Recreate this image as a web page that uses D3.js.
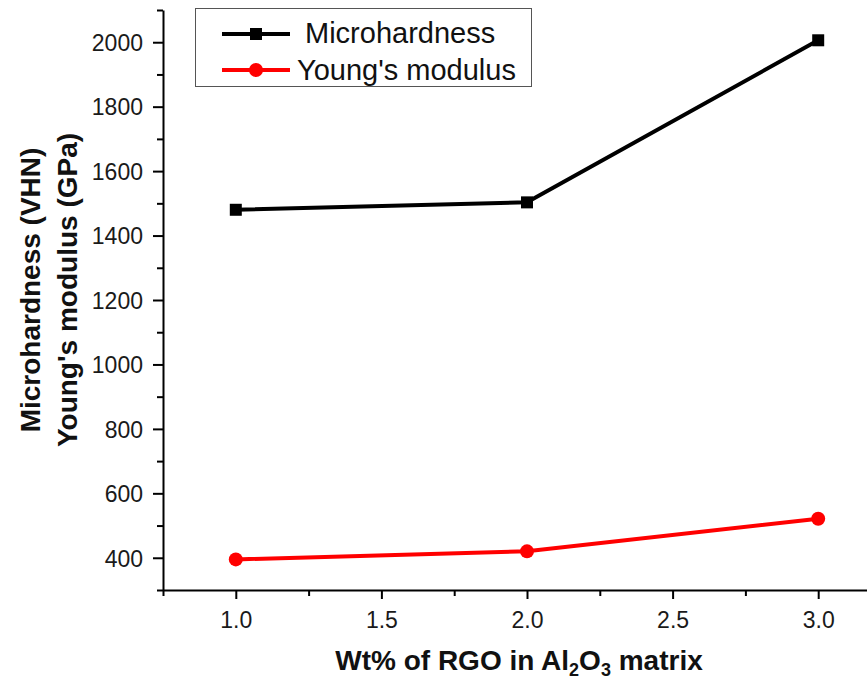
<!DOCTYPE html>
<html>
<head>
<meta charset="utf-8">
<script src="https://cdn.jsdelivr.net/npm/d3@7"></script>
<style>
  body { margin: 0; background: #fff; }
  svg { font-family: "Liberation Sans", Arial, sans-serif; }
</style>
</head>
<body>
<svg id="canvas_svg" width="867" height="682"></svg>
<script>
// data
var wtPercent = [1.0, 2.0, 3.0];
var microhardness = [1480, 1503, 2006];
var youngsModulus = [395, 420, 521];
var xTicks = [1.0, 1.5, 2.0, 2.5, 3.0];
var yTicks = [400, 600, 800, 1000, 1200, 1400, 1600, 1800, 2000];
var seriesNames = ["Microhardness", "Young's modulus"];

var svg = d3.select("#canvas_svg");

var padL = 163, padR = 891, padT = 10, padB = 590;

var x = d3.scaleLinear().domain([0.75, 3.25]).range([padL, padR]);
var y = d3.scaleLinear().domain([300, 2100]).range([padB, padT]);

// minor ticks
var xMinor = [0.75, 1.25, 1.75, 2.25, 2.75, 3.25];
var yMinor = [300, 500, 700, 900, 1100, 1300, 1500, 1700, 1900, 2100];

var gx = svg.append("g").attr("transform", "translate(0," + padB + ")");
gx.call(d3.axisBottom(x).tickValues(xTicks).tickFormat(d3.format(".1f")).tickSize(9).tickSizeOuter(0));
gx.append("g").call(d3.axisBottom(x).tickValues(xMinor).tickFormat("").tickSize(6).tickSizeOuter(0))
  .select(".domain").remove();

var gy = svg.append("g").attr("transform", "translate(" + padL + ",0)");
gy.call(d3.axisLeft(y).tickValues(yTicks).tickFormat(d3.format("d")).tickSize(10).tickSizeOuter(0));
gy.append("g").call(d3.axisLeft(y).tickValues(yMinor).tickFormat("").tickSize(6).tickSizeOuter(0))
  .select(".domain").remove();

svg.selectAll(".domain").attr("stroke", "#000").attr("stroke-width", 2);
svg.selectAll(".tick line").attr("stroke", "#000").attr("stroke-width", 2);
svg.selectAll(".tick text").style("font-size", "23px").attr("fill", "#1a1a1a")
  .style("font-family", "'Liberation Sans', Arial, sans-serif");
gx.selectAll(".tick text").attr("y", 22).attr("dy", "0.71em");
gy.selectAll(".tick text").attr("x", -20).attr("dy", "0.36em");

var line = d3.line().x(d => x(d[0])).y(d => y(d[1]));

var mh = wtPercent.map((v, i) => [v, microhardness[i]]);
var ym = wtPercent.map((v, i) => [v, youngsModulus[i]]);

svg.append("path").datum(mh).attr("d", line)
  .attr("fill", "none").attr("stroke", "#000").attr("stroke-width", 4);
svg.selectAll(".sq").data(mh).enter().append("rect")
  .attr("x", d => x(d[0]) - 6).attr("y", d => y(d[1]) - 6)
  .attr("width", 12).attr("height", 12).attr("fill", "#000");

svg.append("path").datum(ym).attr("d", line)
  .attr("fill", "none").attr("stroke", "#ff0000").attr("stroke-width", 4);
svg.selectAll(".ci").data(ym).enter().append("circle")
  .attr("cx", d => x(d[0])).attr("cy", d => y(d[1])).attr("r", 7)
  .attr("fill", "#ff0000");

// legend
var lg = svg.append("g");
lg.append("rect").attr("x", 195.5).attr("y", 8.5).attr("width", 336).attr("height", 78)
  .attr("fill", "#fff").attr("stroke", "#555").attr("stroke-width", 1);
lg.append("line").attr("x1", 222).attr("x2", 290).attr("y1", 34).attr("y2", 34)
  .attr("stroke", "#000").attr("stroke-width", 4);
lg.append("rect").attr("x", 250).attr("y", 28).attr("width", 12).attr("height", 12).attr("fill", "#000");
lg.append("line").attr("x1", 222).attr("x2", 290).attr("y1", 70).attr("y2", 70)
  .attr("stroke", "#ff0000").attr("stroke-width", 4);
lg.append("circle").attr("cx", 256).attr("cy", 70).attr("r", 7).attr("fill", "#ff0000");
lg.append("text").attr("x", 305).attr("y", 43).style("font-size", "29px").attr("fill", "#111").text(seriesNames[0]);
lg.append("text").attr("x", 297).attr("y", 80).style("font-size", "29px").attr("fill", "#111").text(seriesNames[1]);

// axis titles
var yt = svg.append("text").attr("transform", "translate(40,290) rotate(-90)")
  .attr("text-anchor", "middle").style("font-size", "28px").attr("font-weight", "bold").attr("fill", "#111");
yt.append("tspan").attr("x", 0).attr("dy", 0).text("Microhardness (VHN)");
yt.append("tspan").attr("x", 0).attr("dy", 37).text("Young's modulus (GPa)");

var xt = svg.append("text").attr("x", 519).attr("y", 670)
  .attr("text-anchor", "middle").style("font-size", "28px").attr("font-weight", "bold").attr("fill", "#111");
xt.append("tspan").text("Wt% of RGO in Al");
xt.append("tspan").style("font-size", "18px").attr("dy", 6).text("2");
xt.append("tspan").attr("dy", -6).text("O");
xt.append("tspan").style("font-size", "18px").attr("dy", 6).text("3");
xt.append("tspan").attr("dy", -6).text(" matrix");
</script>
</body>
</html>
